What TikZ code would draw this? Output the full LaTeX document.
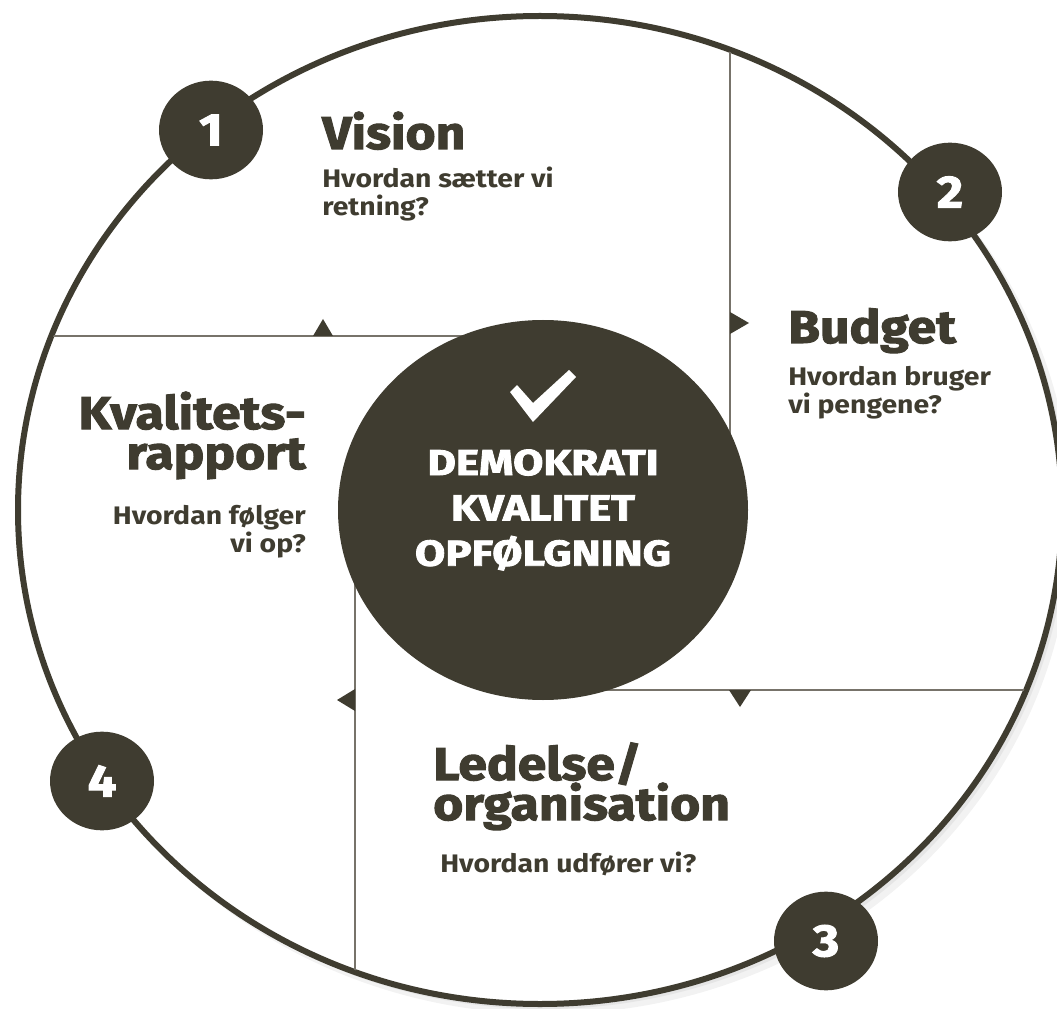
\documentclass[tikz,border=0pt]{standalone}
\usepackage{fontspec}
\usepackage{tikz}
\usetikzlibrary{shapes.geometric,positioning}
\newfontfamily\heavyfont{Fira Sans}[BoldFeatures={FakeBold=2.2,FakeStretch=1.12}]
\newfontfamily\boldfont{Fira Sans}[BoldFeatures={FakeStretch=1.12}]
\newfontfamily\kernefont{Fira Sans}[BoldFeatures={FakeBold=2.4,FakeStretch=1.22}]
\protected\def\tetlinjer{\lineskiplimit=-50pt\relax}
\definecolor{olivedark}{HTML}{3F3C30}
\definecolor{olivegray}{HTML}{77736A}

\begin{document}
\begin{tikzpicture}[
    x=0.75pt,y=-0.75pt,
    ring/.style    = {draw=olivedark,line width=4.5pt,fill=white},
    skille/.style  = {olivegray,line width=2pt},
    pil/.style     = {fill=olivedark},
    kerne/.style   = {ellipse,fill=olivedark,text=white,inner sep=0pt,align=center,
                      minimum width=307.5pt,minimum height=285pt,
                      font=\kernefont\bfseries\fontsize{27}{34}\selectfont\tetlinjer},
    nummer/.style  = {ellipse,fill=olivedark,text=white,inner sep=0pt,
                      minimum width=78pt,minimum height=74pt,
                      font=\heavyfont\bfseries\fontsize{34}{34}\selectfont},
    titel/.style   = {anchor=base west,align=left,inner sep=0pt,text=olivedark,
                      font=\heavyfont\bfseries\fontsize{34.5}{30}\selectfont\tetlinjer},
    spm/.style     = {anchor=base west,align=left,inner sep=0pt,text=olivedark,
                      font=\boldfont\bfseries\fontsize{19}{21}\selectfont\tetlinjer},
  ]
  \useasboundingbox (0,0) rectangle (1057,1009);

  % ── Ydre ring med skygge ─────────────────────────────────────────────────
  \fill[black!5]  (548,518) ellipse [x radius=524, y radius=496];
  \fill[black!10] (544,514) ellipse [x radius=523, y radius=495];
  \draw[ring]     (540,510) ellipse [x radius=522, y radius=494];

  % ── Skillelinjer mellem felterne ─────────────────────────────────────────
  \begin{scope}
    \clip (540,510) ellipse [x radius=520, y radius=492];
    \draw[skille] (730,0)    -- (730,520);
    \draw[skille] (0,336)    -- (543,336);
    \draw[skille] (355,1009) -- (355,510);
    \draw[skille] (1057,690) -- (543,690);
  \end{scope}

  % ── Pile på skillelinjerne ───────────────────────────────────────────────
  \fill[pil] (313,336) -- (323,319) -- (333,336) -- cycle;
  \fill[pil] (730,312) -- (749,323) -- (730,334) -- cycle;
  \fill[pil] (729,690) -- (740,707) -- (751,690) -- cycle;
  \fill[pil] (355,689) -- (337,700) -- (355,711) -- cycle;

  % ── Midten ───────────────────────────────────────────────────────────────
  \node[kerne] (midt) at (543,510) {DEMOKRATI\\KVALITET\\OPFØLGNING};
  \fill[white] (510,392) -- (517,385) -- (533,403) -- (569,370)
               -- (576,377) -- (533,422) -- cycle;

  % ── Felternes tekster (ankret ved sidste linjes grundlinje) ──────────────
  \node[titel] (vision) at (322,149) {Vision};
  \node[spm]   (visq)   at (322,216) {Hvordan sætter vi\\retning?};

  \node[titel] (budget) at (788,343) {Budget};
  \node[spm]   (budq)   at (788,413) {Hvordan bruger\\vi pengene?};

  \node[titel] (ledelse) at (433,820) {Ledelse/\\organisation};
  \node[spm]   (ledq)    at (440,872) {Hvordan udfører vi?};

  \node[titel,anchor=base east,align=right] (kval)  at (306,469) {Kvalitets-\\rapport};
  \node[spm,anchor=base east,align=right]   (kvalq) at (306,552) {Hvordan følger\\vi op?};

  % ── Nummererede trin på ringen ───────────────────────────────────────────
  \foreach \n/\x/\y in {1/211/130, 2/950/192, 3/826/941, 4/102/781}
    \node[nummer] (trin\n) at (\x,\y) {\n};

\end{tikzpicture}
\end{document}
